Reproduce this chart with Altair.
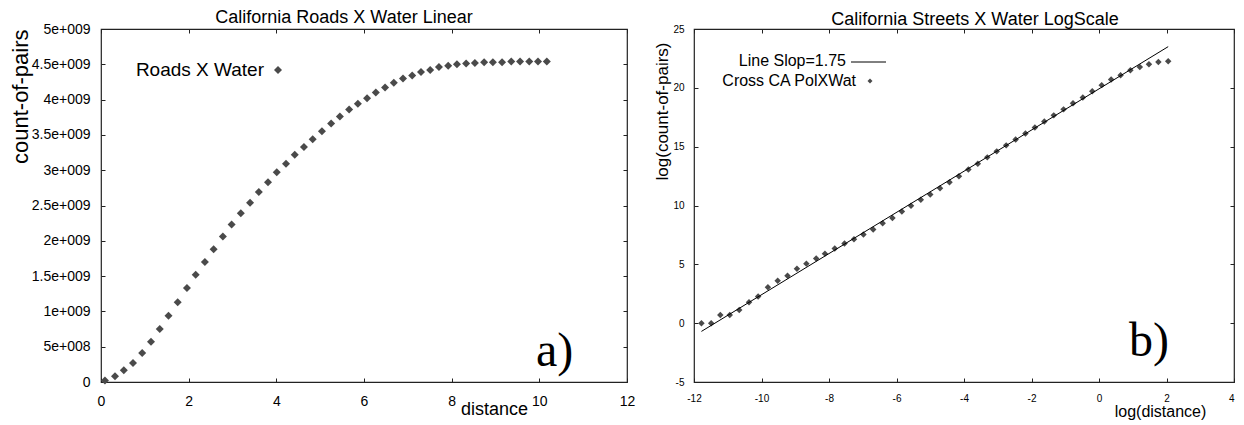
import altair as alt
import pandas as pd

# ---------------- data ----------------
left_x = [0.09, 0.32, 0.52, 0.73, 0.94, 1.14, 1.34, 1.54, 1.75, 1.96,
          2.16, 2.37, 2.57, 2.78, 2.98, 3.19, 3.40, 3.60, 3.81, 4.01,
          4.22, 4.42, 4.63, 4.83, 5.04, 5.25, 5.45, 5.66, 5.86, 6.07,
          6.27, 6.48, 6.68, 6.89, 7.10, 7.30, 7.51, 7.71, 7.92, 8.12,
          8.33, 8.53, 8.74, 8.94, 9.15, 9.36, 9.56, 9.77, 9.97, 10.17]
left_y = [0.02e9, 0.08e9, 0.165e9, 0.27e9, 0.41e9, 0.57e9, 0.75e9, 0.94e9, 1.13e9, 1.33e9,
          1.52e9, 1.70e9, 1.88e9, 2.06e9, 2.23e9, 2.39e9, 2.54e9, 2.69e9, 2.83e9, 2.97e9,
          3.09e9, 3.22e9, 3.33e9, 3.44e9, 3.55e9, 3.66e9, 3.76e9, 3.86e9, 3.94e9, 4.02e9,
          4.10e9, 4.17e9, 4.24e9, 4.30e9, 4.34e9, 4.39e9, 4.42e9, 4.46e9, 4.48e9, 4.50e9,
          4.51e9, 4.52e9, 4.53e9, 4.53e9, 4.53e9, 4.54e9, 4.54e9, 4.54e9, 4.54e9, 4.54e9]

right_x = [-11.78, -11.49, -11.22, -10.94, -10.66, -10.37, -10.10, -9.81, -9.52, -9.23,
           -8.95, -8.67, -8.38, -8.12, -7.83, -7.54, -7.26, -6.98, -6.69, -6.41,
           -6.12, -5.84, -5.57, -5.28, -5.00, -4.71, -4.43, -4.15, -3.87, -3.59,
           -3.31, -3.03, -2.75, -2.47, -2.18, -1.90, -1.62, -1.34, -1.05, -0.77,
           -0.48, -0.20, 0.08, 0.36, 0.64, 0.93, 1.21, 1.48, 1.76, 2.05]
right_y = [0.0, 0.0, 0.69, 0.69, 1.11, 1.77, 2.26, 3.06, 3.60, 4.03,
           4.63, 5.06, 5.49, 5.91, 6.34, 6.77, 7.14, 7.54, 7.97, 8.49,
           8.94, 9.49, 9.97, 10.49, 10.94, 11.46, 11.97, 12.49, 13.06, 13.54,
           14.09, 14.60, 15.11, 15.60, 16.11, 16.63, 17.14, 17.66, 18.17, 18.69,
           19.17, 19.71, 20.23, 20.71, 21.06, 21.49, 21.77, 22.00, 22.20, 22.26]

fit_x = [-11.78, 2.05]
fit_y = [-0.70, 23.50]

left_x_ticks = [0, 2, 4, 6, 8, 10, 12]
left_y_ticks = [0, 5e8, 1e9, 1.5e9, 2e9, 2.5e9, 3e9, 3.5e9, 4e9, 4.5e9, 5e9]
left_y_tick_labels = ["0", "5e+008", "1e+009", "1.5e+009", "2e+009", "2.5e+009",
                      "3e+009", "3.5e+009", "4e+009", "4.5e+009", "5e+009"]
right_x_ticks = [-12, -10, -8, -6, -4, -2, 0, 2, 4]
right_y_ticks = [-5, 0, 5, 10, 15, 20, 25]

left_title = "California Roads X Water Linear"
right_title = "California Streets X Water LogScale"
left_legend = ["Roads X Water"]
right_legend = ["Line Slop=1.75", "Cross CA PolXWat"]
panel_tags = ["a)", "b)"]

# ---------------- styling ----------------
FONT = "Liberation Sans"
MARK = "#4a4a4a"
W1, W2, H = 526, 540, 353

left_df = pd.DataFrame({"x": left_x, "y": left_y})
right_df = pd.DataFrame({"x": right_x, "y": right_y})
fit_df = pd.DataFrame({"x": fit_x, "y": fit_y})

ylab_expr = ("[" + ",".join("'%s'" % s for s in left_y_tick_labels) + "][indexof(["
             + ",".join(str(int(v)) for v in left_y_ticks) + "], datum.value)]")


def mirror_axes(df, xdom, ydom, xt, yt):
    return alt.Chart(df).mark_point(opacity=0).encode(
        x=alt.X("x:Q", scale=alt.Scale(domain=xdom, nice=False, zero=False),
                axis=alt.Axis(orient="top", values=xt, labels=False, tickSize=4,
                              offset=-4, domain=False, grid=False, title=None,
                              tickColor="#222")),
        y=alt.Y("y:Q", scale=alt.Scale(domain=ydom, nice=False, zero=False),
                axis=alt.Axis(orient="right", values=yt, labels=False, tickSize=4,
                              offset=-4, domain=False, grid=False, title=None,
                              tickColor="#222")),
    )


# ---------------- left panel ----------------
lx = alt.Scale(domain=[0, 12], nice=False, zero=False)
ly = alt.Scale(domain=[0, 5e9], nice=False, zero=False)

left_pts = alt.Chart(left_df).mark_point(shape="diamond", filled=True, size=64,
                                         color=MARK, opacity=1).encode(
    x=alt.X("x:Q", scale=lx,
            axis=alt.Axis(values=left_x_ticks, tickSize=4, offset=-4, domain=False,
                          grid=False, labelFontSize=14, labelPadding=12,
                          labelFlush=False, labelOverlap=False, labelColor="black",
                          tickColor="#222", title="distance", titleFontSize=18,
                          titleFontWeight="normal", titleX=393, titleY=36,
                          titleAlign="center", titleBaseline="alphabetic",
                          titleColor="black")),
    y=alt.Y("y:Q", scale=ly,
            axis=alt.Axis(values=left_y_ticks, labelExpr=ylab_expr, tickSize=4,
                          offset=-4, domain=False, grid=False, labelFontSize=14,
                          labelPadding=11, labelFlush=False, labelOverlap=False,
                          labelColor="black", tickColor="#222",
                          title="count-of-pairs", titleFontSize=22,
                          titleFontWeight="normal", titleX=-85, titleY=0,
                          titleAngle=270, titleAlign="right", titleBaseline="middle",
                          titleColor="black")),
)

left_leg_text = alt.Chart(pd.DataFrame({"t": left_legend})).mark_text(
    align="right", baseline="middle", fontSize=19, font=FONT, color="black").encode(
    text="t:N", x=alt.value(163), y=alt.value(41))
left_leg_sym = alt.Chart(pd.DataFrame({"t": left_legend})).mark_point(
    shape="diamond", filled=True, size=64, color=MARK, opacity=1).encode(
    x=alt.value(177), y=alt.value(41))
left_tag = alt.Chart(pd.DataFrame({"t": [panel_tags[0]]})).mark_text(
    align="left", baseline="alphabetic", fontSize=48, font="Liberation Serif",
    color="black").encode(text="t:N", x=alt.value(435), y=alt.value(337))

left = alt.layer(
    left_pts,
    mirror_axes(left_df, [0, 12], [0, 5e9], left_x_ticks, left_y_ticks),
    left_leg_text, left_leg_sym, left_tag,
).resolve_axis(x="independent", y="independent").properties(
    width=W1, height=H,
    title=alt.TitleParams(left_title, fontSize=18, fontWeight="normal", font=FONT,
                          dx=-20, offset=-5, color="black"))

# ---------------- right panel ----------------
rx = alt.Scale(domain=[-12, 4], nice=False, zero=False)
ry = alt.Scale(domain=[-5, 25], nice=False, zero=False)

right_pts = alt.Chart(right_df).mark_point(shape="diamond", filled=True, size=42,
                                           color=MARK, opacity=1).encode(
    x=alt.X("x:Q", scale=rx,
            axis=alt.Axis(values=right_x_ticks, labelExpr="'' + datum.value",
                          labelAlign={"condition": {"test": "datum.value == 4",
                                                    "value": "right"},
                                      "value": "center"},
                          tickSize=4, offset=-4, domain=False, grid=False,
                          labelFontSize=10, labelPadding=11, labelFlush=False,
                          labelOverlap=False, labelColor="black", tickColor="#222",
                          title="log(distance)", titleFontSize=16,
                          titleFontWeight="normal", titleX=466, titleY=38,
                          titleAlign="center", titleBaseline="alphabetic",
                          titleColor="black")),
    y=alt.Y("y:Q", scale=ry,
            axis=alt.Axis(values=right_y_ticks, labelExpr="'' + datum.value",
                          tickSize=4, offset=-4, domain=False, grid=False,
                          labelFontSize=10, labelPadding=10, labelFlush=False,
                          labelOverlap=False, labelColor="black", tickColor="#222",
                          title="log(count-of-pairs)", titleFontSize=17,
                          titleFontWeight="normal", titleX=-36, titleY=13,
                          titleAngle=270, titleAlign="right", titleBaseline="middle",
                          titleColor="black")),
)

fit_line = alt.Chart(fit_df).mark_line(color="black", strokeWidth=1).encode(
    x=alt.X("x:Q", scale=rx, axis=None),
    y=alt.Y("y:Q", scale=ry, axis=None))

right_leg_text1 = alt.Chart(pd.DataFrame({"t": [right_legend[0]]})).mark_text(
    align="right", baseline="middle", fontSize=16, font=FONT, color="black").encode(
    text="t:N", x=alt.value(152), y=alt.value(32))
right_leg_text2 = alt.Chart(pd.DataFrame({"t": [right_legend[1]]})).mark_text(
    align="right", baseline="middle", fontSize=16, font=FONT, color="black").encode(
    text="t:N", x=alt.value(162), y=alt.value(52))
right_leg_line = alt.Chart(pd.DataFrame({"t": [right_legend[0]]})).mark_rule(
    color="black", strokeWidth=1).encode(
    x=alt.value(157), x2=alt.value(192), y=alt.value(33))
right_leg_sym = alt.Chart(pd.DataFrame({"t": [right_legend[1]]})).mark_point(
    shape="diamond", filled=True, size=25, color=MARK, opacity=1).encode(
    x=alt.value(176), y=alt.value(52))
right_tag = alt.Chart(pd.DataFrame({"t": [panel_tags[1]]})).mark_text(
    align="left", baseline="alphabetic", fontSize=48, font="Liberation Serif",
    color="black").encode(text="t:N", x=alt.value(435), y=alt.value(327))

right = alt.layer(
    right_pts, fit_line,
    mirror_axes(right_df, [-12, 4], [-5, 25], right_x_ticks, right_y_ticks),
    right_leg_text1, right_leg_text2, right_leg_line, right_leg_sym, right_tag,
).resolve_axis(x="independent", y="independent").properties(
    width=W2, height=H,
    title=alt.TitleParams(right_title, fontSize=18, fontWeight="normal", font=FONT,
                          dx=11, offset=-5, color="black"))

chart = alt.hconcat(left, right, spacing=16).properties(
    padding=0, background="white"
).configure(font=FONT).configure_view(stroke="#222", strokeWidth=1.2)

chart.save("out.html", embed_options={"renderer": "svg", "actions": False})
